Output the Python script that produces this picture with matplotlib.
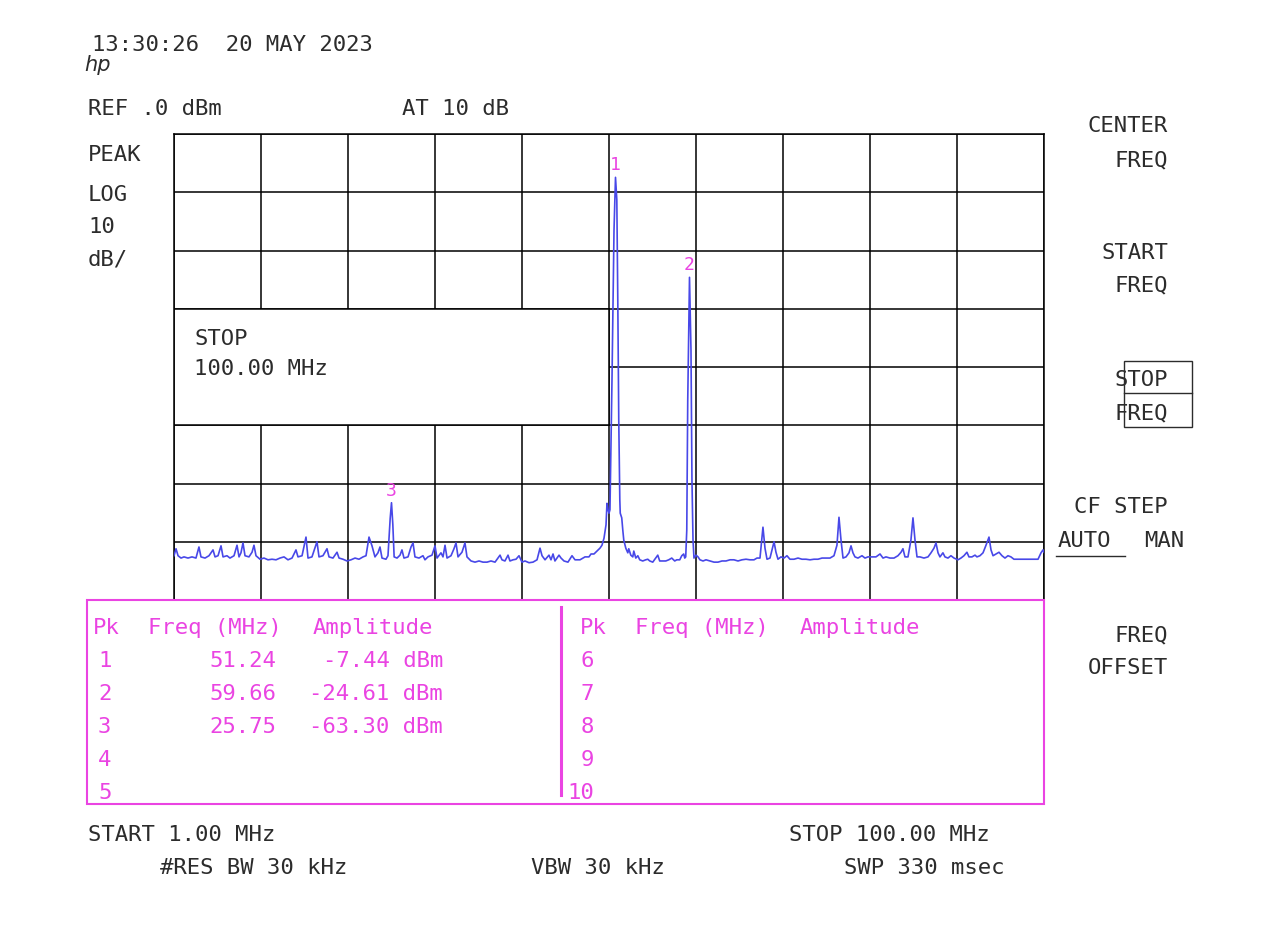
import numpy as np
import matplotlib
matplotlib.use("Agg")
import matplotlib.pyplot as plt
from matplotlib.patches import Rectangle
from matplotlib.lines import Line2D

# analyzer settings
start_mhz = 1.0
stop_mhz = 100.0
ref_dbm = 0.0
db_per_div = 10

# swept trace (MHz, dBm)
trace_freq = [
    1.00, 1.23, 1.46, 1.80, 2.14, 2.59, 3.05, 3.50, 3.84, 4.07,
    4.53, 4.98, 5.44, 5.67, 6.01, 6.35, 6.58, 7.03, 7.37, 7.83,
    8.17, 8.40, 8.62, 8.85, 9.08, 9.53, 9.88, 10.10, 10.33, 10.79,
    11.24, 11.70, 12.15, 12.61, 13.06, 13.52, 13.97, 14.43, 14.88, 15.11,
    15.57, 16.02, 16.25, 16.70, 17.27, 17.50, 17.95, 18.41, 18.64, 19.09,
    19.55, 19.78, 20.23, 20.69, 21.14, 21.60, 22.05, 22.51, 22.85, 23.19,
    23.53, 23.87, 24.21, 24.44, 24.67, 25.12, 25.35, 25.60, 25.75, 25.90,
    26.05, 26.38, 26.72, 26.94, 27.17, 27.63, 27.97, 28.20, 28.42, 28.88,
    29.33, 29.56, 29.90, 30.36, 30.70, 30.93, 31.38, 31.61, 31.84, 32.07,
    32.52, 32.86, 33.09, 33.32, 33.77, 34.11, 34.34, 34.80, 35.25, 35.71,
    36.16, 36.62, 37.07, 37.53, 37.87, 38.10, 38.32, 38.66, 39.01, 39.23,
    39.58, 39.92, 40.26, 40.60, 40.94, 41.40, 41.85, 42.31, 42.65, 42.88,
    43.22, 43.67, 43.90, 44.13, 44.35, 44.81, 45.04, 45.38, 45.83, 46.29,
    46.63, 47.20, 47.77, 48.22, 48.45, 48.79, 49.13, 49.47, 49.70, 49.93,
    50.16, 50.27, 50.39, 50.50, 50.61, 50.84, 51.07, 51.24, 51.39, 51.50,
    51.61, 51.73, 51.78, 51.95, 52.07, 52.18, 52.41, 52.64, 52.75, 52.98,
    53.21, 53.32, 53.55, 53.78, 54.00, 54.34, 54.68, 54.91, 55.14, 55.48,
    55.82, 56.05, 56.27, 56.61, 56.96, 57.30, 57.64, 57.98, 58.21, 58.55,
    58.78, 59.00, 59.12, 59.23, 59.35, 59.46, 59.66, 59.83, 59.94, 60.06,
    60.17, 60.40, 60.63, 60.85, 61.20, 61.54, 61.99, 62.45, 62.90, 63.36,
    63.81, 64.27, 64.72, 65.18, 65.63, 66.09, 66.54, 67.00, 67.34, 67.68,
    68.02, 68.25, 68.48, 68.82, 69.05, 69.28, 69.50, 69.73, 70.07, 70.41,
    70.75, 71.09, 71.55, 72.01, 72.46, 72.92, 73.37, 73.83, 74.28, 74.74,
    75.19, 75.65, 76.10, 76.44, 76.67, 76.90, 77.13, 77.47, 77.81, 78.04,
    78.26, 78.49, 78.83, 79.29, 79.63, 79.97, 80.43, 80.88, 81.34, 81.68,
    82.02, 82.47, 82.93, 83.38, 83.73, 83.95, 84.18, 84.52, 84.86, 85.09,
    85.32, 85.55, 85.89, 86.34, 86.80, 87.14, 87.48, 87.71, 87.94, 88.16,
    88.50, 88.73, 89.07, 89.41, 89.76, 90.21, 90.55, 90.89, 91.23, 91.46,
    91.80, 92.15, 92.37, 92.71, 93.06, 93.40, 93.74, 93.97, 94.20, 94.54,
    94.88, 95.22, 95.56, 95.90, 96.24, 96.58, 97.04, 97.49, 97.95, 98.40,
    98.86, 99.32, 99.66, 99.89, 100.00,
]
trace_dbm = [
    -72.4, -71.2, -72.4, -72.8, -72.6, -72.8, -72.6, -72.8, -70.9, -72.6,
    -72.8, -72.4, -71.4, -72.6, -72.4, -70.7, -72.6, -72.4, -72.8, -72.4,
    -70.6, -72.6, -71.9, -70.2, -72.4, -72.6, -71.8, -70.6, -72.4, -73.0,
    -72.8, -73.1, -73.0, -73.1, -72.8, -72.6, -73.1, -72.8, -71.4, -72.6,
    -72.4, -69.2, -72.8, -72.6, -70.0, -72.6, -72.4, -71.2, -72.6, -72.8,
    -71.8, -72.8, -73.0, -73.3, -73.1, -72.8, -73.0, -72.6, -72.4, -69.2,
    -70.7, -72.6, -71.9, -70.9, -72.8, -73.0, -72.4, -66.0, -63.3, -67.0,
    -72.6, -72.8, -72.3, -71.4, -72.8, -72.6, -70.9, -70.2, -72.6, -72.8,
    -72.4, -73.1, -72.6, -72.3, -70.7, -72.8, -71.9, -72.6, -70.6, -72.8,
    -72.4, -71.2, -70.2, -72.6, -71.8, -70.2, -72.6, -73.3, -73.5, -73.3,
    -73.5, -73.5, -73.3, -73.5, -72.8, -72.3, -73.1, -73.3, -72.3, -73.3,
    -73.1, -73.0, -72.4, -73.5, -73.3, -73.6, -73.5, -73.1, -71.1, -72.4,
    -73.1, -72.3, -73.1, -72.1, -73.3, -72.3, -72.8, -73.3, -73.5, -72.4,
    -73.1, -73.1, -72.6, -72.6, -72.1, -72.1, -71.6, -71.1, -70.6, -69.4,
    -67.1, -63.4, -64.5, -65.1, -64.5, -42.2, -16.5, -7.44, -11.3, -28.5,
    -49.1, -62.8, -65.1, -65.9, -68.0, -69.7, -71.1, -71.9, -71.2, -72.3,
    -72.6, -71.6, -72.8, -72.4, -73.1, -73.3, -73.1, -73.0, -73.3, -73.5,
    -72.8, -72.3, -73.3, -73.3, -73.3, -73.1, -72.8, -73.3, -73.1, -73.1,
    -72.4, -72.1, -72.8, -72.6, -68.0, -45.7, -24.61, -37.1, -59.4, -69.7,
    -72.8, -72.3, -72.6, -73.1, -73.3, -73.1, -73.3, -73.5, -73.5, -73.3,
    -73.3, -73.1, -73.1, -73.3, -73.1, -73.0, -73.1, -73.1, -72.8, -72.8,
    -67.5, -71.1, -73.0, -72.8, -71.4, -70.0, -71.8, -73.0, -72.6, -72.8,
    -72.4, -73.0, -73.0, -72.8, -73.0, -73.0, -73.1, -73.0, -73.0, -72.8,
    -72.8, -72.8, -72.4, -70.6, -65.8, -69.7, -72.8, -72.6, -71.9, -70.7,
    -71.9, -72.6, -72.8, -72.4, -72.8, -72.6, -72.6, -72.6, -72.1, -72.8,
    -72.6, -72.8, -72.8, -72.4, -71.8, -71.2, -72.6, -72.6, -69.7, -65.9,
    -69.7, -72.6, -72.6, -72.8, -72.6, -71.9, -71.1, -70.2, -71.9, -72.6,
    -71.9, -72.6, -72.8, -72.4, -72.8, -73.1, -72.8, -72.4, -71.8, -72.6,
    -72.6, -72.3, -72.6, -72.4, -71.9, -70.6, -69.2, -71.4, -72.4, -72.1,
    -71.8, -72.4, -72.8, -72.4, -72.6, -73.0, -73.0, -73.0, -73.0, -73.0,
    -73.0, -73.0, -71.9, -71.4, -71.8,
]

# peak table
marker_pk = [1, 2, 3]
marker_freq = [51.24, 59.66, 25.75]
marker_amp = [-7.44, -24.61, -63.30]
empty_left = [4, 5]
empty_right = [6, 7, 8, 9, 10]

W, H = 1274, 938
INK = "#2c2c2c"
MAG = "#ea44e2"
TRACE = "#4848e8"
MONO = "DejaVu Sans Mono"

fig = plt.figure(figsize=(W / 100, H / 100), dpi=100)


def fx(x):
    return x / W


def fy(y):
    return 1 - y / H


def label(x, y, s, color=INK, ha="left", size=16, **kw):
    fig.text(fx(x), fy(y), s, ha=ha, va="baseline", color=color,
             family=MONO, fontsize=size, **kw)


# screen graticule
ax = fig.add_axes([fx(174), fy(600), 870 / W, 466 / H])
ax.plot(trace_freq, trace_dbm, color=TRACE, lw=1.2, zorder=3)
ax.set_xlim(start_mhz, stop_mhz)
ax.set_ylim(ref_dbm - 8 * db_per_div, ref_dbm)
ax.set_xticks(np.linspace(start_mhz, stop_mhz, 11))
ax.set_yticks(np.arange(ref_dbm - 8 * db_per_div, ref_dbm + 1, db_per_div))
ax.grid(True, color="black", lw=1.1)
ax.tick_params(length=0, labelbottom=False, labelleft=False)
for sp in ax.spines.values():
    sp.set_linewidth(1.1)

# "STOP 100.00 MHz" entry box over the graticule
ax.add_patch(Rectangle((0, 0.375), 0.5, 0.25, transform=ax.transAxes,
                       fc="white", ec="black", lw=1.1, zorder=2.5))

for pk, f, a in zip(marker_pk, marker_freq, marker_amp):
    ax.annotate(str(pk), (f, a), xytext=(0, 5), textcoords="offset points",
                ha="center", va="baseline", color=MAG, family=MONO,
                fontsize=13, zorder=4)

# header
label(92, 51, "13:30:26  20 MAY 2023")
fig.text(fx(84), fy(71), "hp", style="italic", fontsize=15, color=INK,
         family="DejaVu Sans")
label(88, 115, "REF .0 dBm")
label(402, 115, "AT 10 dB")
label(88, 161, "PEAK")
label(88, 201, "LOG")
label(88, 233, "10")
label(88, 265, "dB/")
label(194, 345, "STOP")
label(194, 375, "100.00 MHz")

# softkeys
label(1168, 132, "CENTER", ha="right")
label(1168, 166, "FREQ", ha="right")
label(1168, 259, "START", ha="right")
label(1168, 291, "FREQ", ha="right")
label(1168, 386, "STOP", ha="right")
label(1168, 419, "FREQ", ha="right")
fig.add_artist(Rectangle((fx(1124), fy(427)), 68 / W, 66 / H,
                         transform=fig.transFigure, fill=False, ec=INK, lw=1))
fig.add_artist(Line2D([fx(1124), fx(1192)], [fy(393), fy(393)],
                      transform=fig.transFigure, color=INK, lw=1))
label(1168, 513, "CF STEP", ha="right")
label(1058, 547, "AUTO")
label(1184, 547, "MAN", ha="right")
fig.add_artist(Line2D([fx(1056), fx(1125)], [fy(556), fy(556)],
                      transform=fig.transFigure, color=INK, lw=1))
label(1168, 641, "FREQ", ha="right")
label(1168, 674, "OFFSET", ha="right")

# peak table
fig.add_artist(Rectangle((fx(87), fy(804)), 957 / W, 204 / H,
                         transform=fig.transFigure, fill=False, ec=MAG,
                         lw=1.5, zorder=5))
fig.add_artist(Line2D([fx(561), fx(561)], [fy(607), fy(795)],
                      transform=fig.transFigure, color=MAG, lw=2.2))
for x0 in (93, 580):
    label(x0, 634, "Pk", color=MAG)
    label(x0 + 55, 634, "Freq (MHz)", color=MAG)
    label(x0 + 220, 634, "Amplitude", color=MAG)

row_y = [667, 700, 733, 766, 799]
for pk, f, a in zip(marker_pk, marker_freq, marker_amp):
    y = row_y[pk - 1]
    label(98, y, str(pk), color=MAG)
    label(276, y, f"{f:.2f}", color=MAG, ha="right")
    label(443, y, f"{a:.2f} dBm", color=MAG, ha="right")
for pk in empty_left:
    label(98, row_y[pk - 1], str(pk), color=MAG)
for pk in empty_right:
    label(594, row_y[pk - 6], str(pk), color=MAG, ha="right")

# footer
label(88, 841, f"START {start_mhz:.2f} MHz")
label(990, 841, f"STOP {stop_mhz:.2f} MHz", ha="right")
label(160, 874, "#RES BW 30 kHz")
label(531, 874, "VBW 30 kHz")
label(1005, 874, "SWP 330 msec", ha="right")

fig.savefig("out.png", dpi=100, facecolor="white")
